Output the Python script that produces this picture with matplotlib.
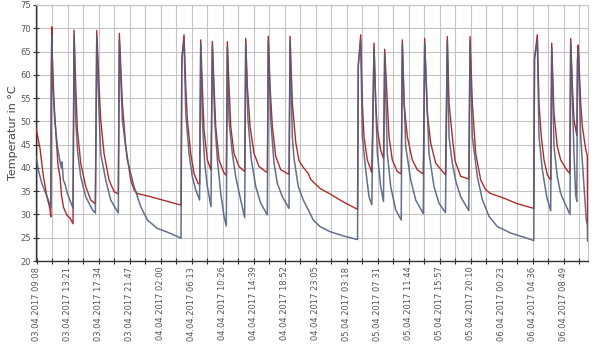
import numpy as np
import pandas as pd
import matplotlib
matplotlib.use('Agg')
import matplotlib.pyplot as plt
import matplotlib.dates as mdates

# hours since 03.04.2017 00:00
red_h = [9.05, 9.60, 10.04, 10.51, 10.96, 11.06, 11.13, 11.19, 11.27, 11.50, 11.73, 12.04, 12.32, 12.52,
         12.79, 13.27, 13.68, 14.08, 14.22, 14.45, 14.67, 15.13, 15.81, 16.49, 17.12, 17.31, 17.62, 17.85,
         18.30, 18.98, 19.66, 20.24, 20.38, 20.79, 21.25, 21.93, 22.38, 22.83, 24.65, 26.91, 28.09, 28.77,
         28.88, 29.18, 29.41, 29.63, 30.09, 30.54, 31.08, 31.31, 31.45, 31.67, 31.90, 32.35, 32.85, 33.03,
         33.26, 33.49, 33.94, 34.62, 34.93, 35.07, 35.30, 35.53, 35.98, 36.66, 37.43, 37.57, 37.79, 38.16,
         38.70, 39.38, 40.29, 40.51, 40.64, 40.88, 41.19, 41.65, 42.33, 43.46, 43.60, 43.91, 44.37, 44.82,
         45.50, 46.08, 46.38, 46.86, 47.68, 49.04, 50.84, 52.78, 52.88, 53.21, 53.43, 53.66, 54.11, 54.72,
         55.02, 55.25, 55.47, 55.93, 56.31, 56.47, 56.83, 57.06, 57.51, 58.19, 58.72, 58.87, 59.10, 59.55,
         60.23, 60.91, 61.72, 61.91, 62.27, 62.73, 63.41, 64.74, 64.99, 65.22, 65.67, 66.04, 66.81, 67.91,
         68.08, 68.39, 68.85, 69.53, 70.21, 70.89, 72.70, 74.51, 76.75, 76.85, 77.23, 77.46, 77.77, 78.14,
         78.59, 79.05, 79.19, 79.50, 79.95, 80.41, 81.09, 81.63, 81.77, 81.99, 82.22, 82.60, 82.70, 82.80,
         83.13, 83.35, 83.81, 84.03, 84.07]
red_t = [48.5, 44.1, 38.3, 34.0, 31.1, 29.5, 60.0, 70.3, 64.0, 54.0, 48.0, 40.5, 38.0, 34.0,
         31.5, 29.8, 29.2, 28.0, 69.6, 57.5, 48.2, 41.0, 36.0, 33.1, 32.3, 69.5, 57.5, 50.3,
         43.1, 37.4, 34.9, 34.4, 68.9, 53.9, 44.6, 37.4, 35.3, 34.5, 33.8, 32.8, 32.3, 32.0,
         63.5, 68.6, 57.5, 50.3, 43.1, 38.8, 36.7, 36.5, 67.5, 57.5, 48.2, 41.7, 39.5, 67.2,
         57.5, 48.9, 41.7, 38.9, 38.4, 67.1, 57.5, 48.9, 43.1, 40.3, 39.2, 67.8, 57.5, 48.9,
         43.1, 40.3, 39.2, 39.0, 68.3, 57.5, 48.9, 42.5, 39.6, 38.6, 68.3, 53.9, 45.5, 41.5,
         39.9, 38.8, 37.6, 36.8, 35.6, 34.4, 32.7, 31.1, 62.0, 68.6, 53.9, 46.7, 41.7, 39.0,
         66.8, 53.9, 48.2, 43.8, 42.0, 65.5, 53.9, 46.7, 41.7, 39.2, 38.7, 67.5, 53.9, 46.7,
         41.7, 39.6, 38.7, 67.8, 51.7, 45.3, 41.0, 38.5, 68.2, 53.9, 46.7, 41.5, 38.2, 37.6,
         68.2, 53.9, 43.1, 37.4, 35.3, 34.5, 33.5, 32.3, 31.3, 63.5, 68.6, 53.9, 46.7, 41.7,
         38.5, 37.4, 66.8, 51.7, 44.6, 41.7, 39.9, 38.8, 67.8, 58.0, 50.3, 47.0, 63.5, 66.4,
         53.9, 49.0, 44.0, 42.6, 28.0]

blue_h = [9.05, 9.36, 9.83, 10.28, 10.72, 11.06, 11.13, 11.20, 11.32, 11.59, 11.95, 12.32, 12.49, 12.59,
          12.76, 13.00, 13.31, 13.68, 14.08, 14.22, 14.45, 14.70, 15.13, 15.81, 16.71, 17.12, 17.31, 17.62,
          17.85, 18.53, 19.21, 20.24, 20.38, 20.79, 21.47, 22.38, 23.29, 24.19, 25.55, 26.91, 28.09, 28.77,
          28.88, 29.18, 29.41, 29.86, 30.31, 30.77, 31.29, 31.45, 31.67, 31.99, 32.35, 32.85, 33.03, 33.35,
          33.71, 34.17, 34.62, 34.93, 35.07, 35.30, 35.75, 36.21, 36.89, 37.43, 37.57, 37.88, 38.33, 38.93,
          39.61, 40.51, 40.64, 40.97, 41.42, 41.87, 42.55, 43.46, 43.60, 43.91, 44.14, 44.72, 45.40, 46.08,
          46.76, 47.68, 49.04, 50.84, 52.78, 52.88, 53.21, 53.43, 53.89, 54.34, 54.72, 55.02, 55.47, 55.93,
          56.31, 56.47, 56.83, 57.29, 57.97, 58.72, 58.87, 59.33, 60.01, 60.69, 61.72, 61.91, 62.50, 63.18,
          63.86, 64.74, 64.99, 65.22, 65.67, 66.17, 66.81, 67.91, 68.08, 68.39, 69.07, 69.75, 70.66, 71.79,
          73.61, 75.42, 76.75, 76.85, 77.23, 77.46, 77.91, 78.51, 79.05, 79.19, 79.50, 79.95, 80.41, 81.09,
          81.68, 81.77, 82.22, 82.45, 82.60, 82.70, 82.80, 83.13, 83.58, 83.89, 84.03, 84.07]
blue_t = [42.4, 39.6, 36.7, 34.9, 33.1, 31.5, 58.0, 68.5, 57.5, 50.3, 44.6, 41.3, 40.0, 41.3,
          37.4, 36.5, 34.5, 33.0, 31.3, 68.5, 50.3, 43.5, 38.1, 33.8, 31.0, 30.3, 68.3, 51.7,
          43.1, 37.4, 33.1, 30.3, 67.5, 50.3, 41.7, 36.0, 31.7, 28.8, 27.0, 26.2, 25.4, 24.9,
          63.3, 67.5, 51.8, 43.1, 38.1, 35.3, 33.1, 66.5, 50.3, 41.0, 36.0, 31.7, 66.2, 50.3,
          41.8, 34.6, 29.6, 27.5, 66.0, 50.3, 43.1, 38.1, 33.1, 29.3, 66.8, 50.3, 41.8, 36.0,
          32.4, 29.9, 67.3, 50.3, 41.0, 36.7, 33.8, 31.3, 67.3, 46.7, 42.0, 36.0, 33.1, 31.0,
          28.8, 27.4, 26.3, 25.4, 24.6, 62.0, 67.5, 46.7, 39.6, 33.8, 32.1, 65.8, 43.1, 36.0,
          32.8, 64.5, 43.1, 36.0, 31.0, 28.8, 66.5, 44.6, 37.4, 33.1, 30.2, 66.8, 43.1, 36.0,
          32.4, 30.4, 67.2, 46.7, 41.0, 37.0, 33.8, 30.8, 67.2, 46.7, 38.1, 33.2, 29.6, 27.4,
          26.0, 25.1, 24.4, 63.5, 67.5, 46.7, 39.6, 33.8, 30.8, 65.8, 44.6, 38.1, 34.5, 32.0,
          30.0, 66.8, 43.1, 34.2, 32.8, 63.0, 65.4, 46.7, 36.0, 28.8, 27.9, 24.3]

tick_labels = ['03.04.2017 09:08', '03.04.2017 13:21', '03.04.2017 17:34', '03.04.2017 21:47',
               '04.04.2017 02:00', '04.04.2017 06:13', '04.04.2017 10:26', '04.04.2017 14:39',
               '04.04.2017 18:52', '04.04.2017 23:05', '05.04.2017 03:18', '05.04.2017 07:31',
               '05.04.2017 11:44', '05.04.2017 15:57', '05.04.2017 20:10', '06.04.2017 00:23',
               '06.04.2017 04:36', '06.04.2017 08:49']
y_ticks = [20, 25, 30, 35, 40, 45, 50, 55, 60, 65, 70, 75]

base = pd.Timestamp('2017-04-03')
red_x = base + pd.to_timedelta(red_h, unit='h')
blue_x = base + pd.to_timedelta(blue_h, unit='h')
major = pd.to_datetime(tick_labels, format='%d.%m.%Y %H:%M')
step = major[1] - major[0]
minor = list(major + step / 2)

fig = plt.figure(figsize=(6, 3.51), dpi=100)
ax = fig.add_axes([0.0592, 0.2564, 0.9205, 0.7294])

ax.plot(red_x, red_t, color='#b02a2a', lw=1.0, zorder=3)
ax.plot(blue_x, blue_t, color='#52607e', lw=1.1, alpha=0.9, zorder=4)

ax.set_xlim(base + pd.Timedelta(hours=8.98), base + pd.Timedelta(hours=84.1))
ax.set_ylim(20, 75)
ax.set_yticks(y_ticks)
ax.set_xticks(major)
ax.set_xticklabels(tick_labels, rotation=90)
ax.set_xticks(minor, minor=True)

ax.grid(True, which='both', color='#c4c4c4', lw=0.8)
ax.set_axisbelow(True)
for s in ['top', 'right']:
    ax.spines[s].set_color('#c4c4c4')
for s in ['left', 'bottom']:
    ax.spines[s].set_color('#333333')
    ax.spines[s].set_linewidth(1.0)

ax.tick_params(axis='both', which='both', direction='inout', length=4, width=0.8,
               colors='#333333', labelcolor='#555555', labelsize=6)
ax.tick_params(axis='x', pad=2)
ax.tick_params(axis='y', pad=1)
ax.set_ylabel('Temperatur in °C', fontsize=8, color='#444444', labelpad=2)

fig.savefig('out.png', dpi=100)
